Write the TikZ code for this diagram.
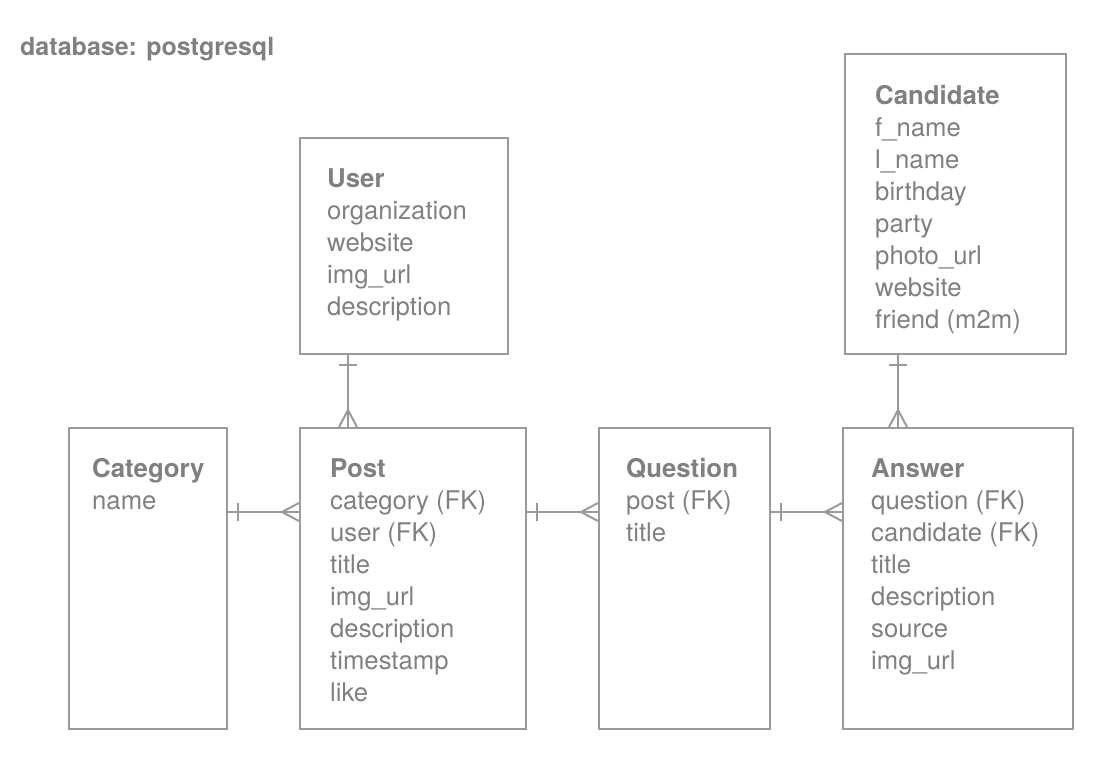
\documentclass[tikz,border=0pt]{standalone}
\usepackage{fontspec}
\setmainfont{TeX Gyre Heros}
\usetikzlibrary{decorations.markings}
\definecolor{ink}{HTML}{808080}
\definecolor{edge}{HTML}{9A9A9A}
\begin{document}
\begin{tikzpicture}[x=1pt,y=-1pt,
  ent/.style={draw=edge, line width=2pt, rectangle, inner sep=0pt},
  txt/.style={text=ink, inner sep=0pt, anchor=base west, font=\fontsize{25.7}{32}\selectfont},
  hd/.style={txt, font=\fontsize{25.8}{32}\selectfont\bfseries},
  erconn/.style={draw=edge, line width=2pt,
    postaction={decorate, decoration={markings,
      mark=at position 10pt with {\draw[edge, line width=2pt] (0,-9pt) -- (0,9pt);},
      mark=at position -17pt with {\draw[edge, line width=2pt] (0,0) -- (17pt,9pt) (0,0) -- (17pt,-9pt);}}}}
]
\useasboundingbox (0,0) rectangle (1108,761);

\node[hd, font=\fontsize{25}{28}\selectfont\bfseries] (title) at (20,55) {database: postgresql};

% boxes
\node[ent, minimum width=208pt, minimum height=216pt] (user) at (404,246) {};
\node[ent, minimum width=221pt, minimum height=300pt] (cand) at (955.5,204) {};
\node[ent, minimum width=158pt, minimum height=301pt] (cat) at (148,578.5) {};
\node[ent, minimum width=226pt, minimum height=301pt] (post) at (413,578.5) {};
\node[ent, minimum width=171pt, minimum height=301pt] (ques) at (684.5,578.5) {};
\node[ent, minimum width=230pt, minimum height=301pt] (ans) at (958,578.5) {};

% User
\node[hd] (u0) at (327,187) {User};
\foreach \t [count=\i] in {organization,website,img\_url,description}
  \node[txt] (u\i) at (327,187+32*\i) {\t};

% Candidate
\node[hd] (c0) at (875,104) {Candidate};
\foreach \t [count=\i] in {f\_name,l\_name,birthday,party,photo\_url,website,friend (m2m)}
  \node[txt] (c\i) at (875,104+32*\i) {\t};

% Category
\node[hd] (k0) at (92,477) {Category};
\node[txt] (k1) at (92,509) {name};

% Post
\node[hd] (p0) at (330,477) {Post};
\foreach \t [count=\i] in {category (FK),user (FK),title,img\_url,description,timestamp,like}
  \node[txt] (p\i) at (330,477+32*\i) {\t};

% Question
\node[hd] (q0) at (626,477) {Question};
\foreach \t [count=\i] in {post (FK),title}
  \node[txt] (q\i) at (626,477+32*\i) {\t};

% Answer
\node[hd] (a0) at (871,477) {Answer};
\foreach \t [count=\i] in {question (FK),candidate (FK),title,description,source,img\_url}
  \node[txt] (a\i) at (871,477+32*\i) {\t};

% connectors
\path[erconn] ([yshift=66.5pt]cat.east) -- ([yshift=66.5pt]post.west);
\path[erconn] ([yshift=66.5pt]post.east) -- ([yshift=66.5pt]ques.west);
\path[erconn] ([yshift=66.5pt]ques.east) -- ([yshift=66.5pt]ans.west);
\path[erconn] ([xshift=-56pt]user.south) -- ([xshift=-65pt]post.north);
\path[erconn] ([xshift=-57.5pt]cand.south) -- ([xshift=-60pt]ans.north);
\end{tikzpicture}
\end{document}
